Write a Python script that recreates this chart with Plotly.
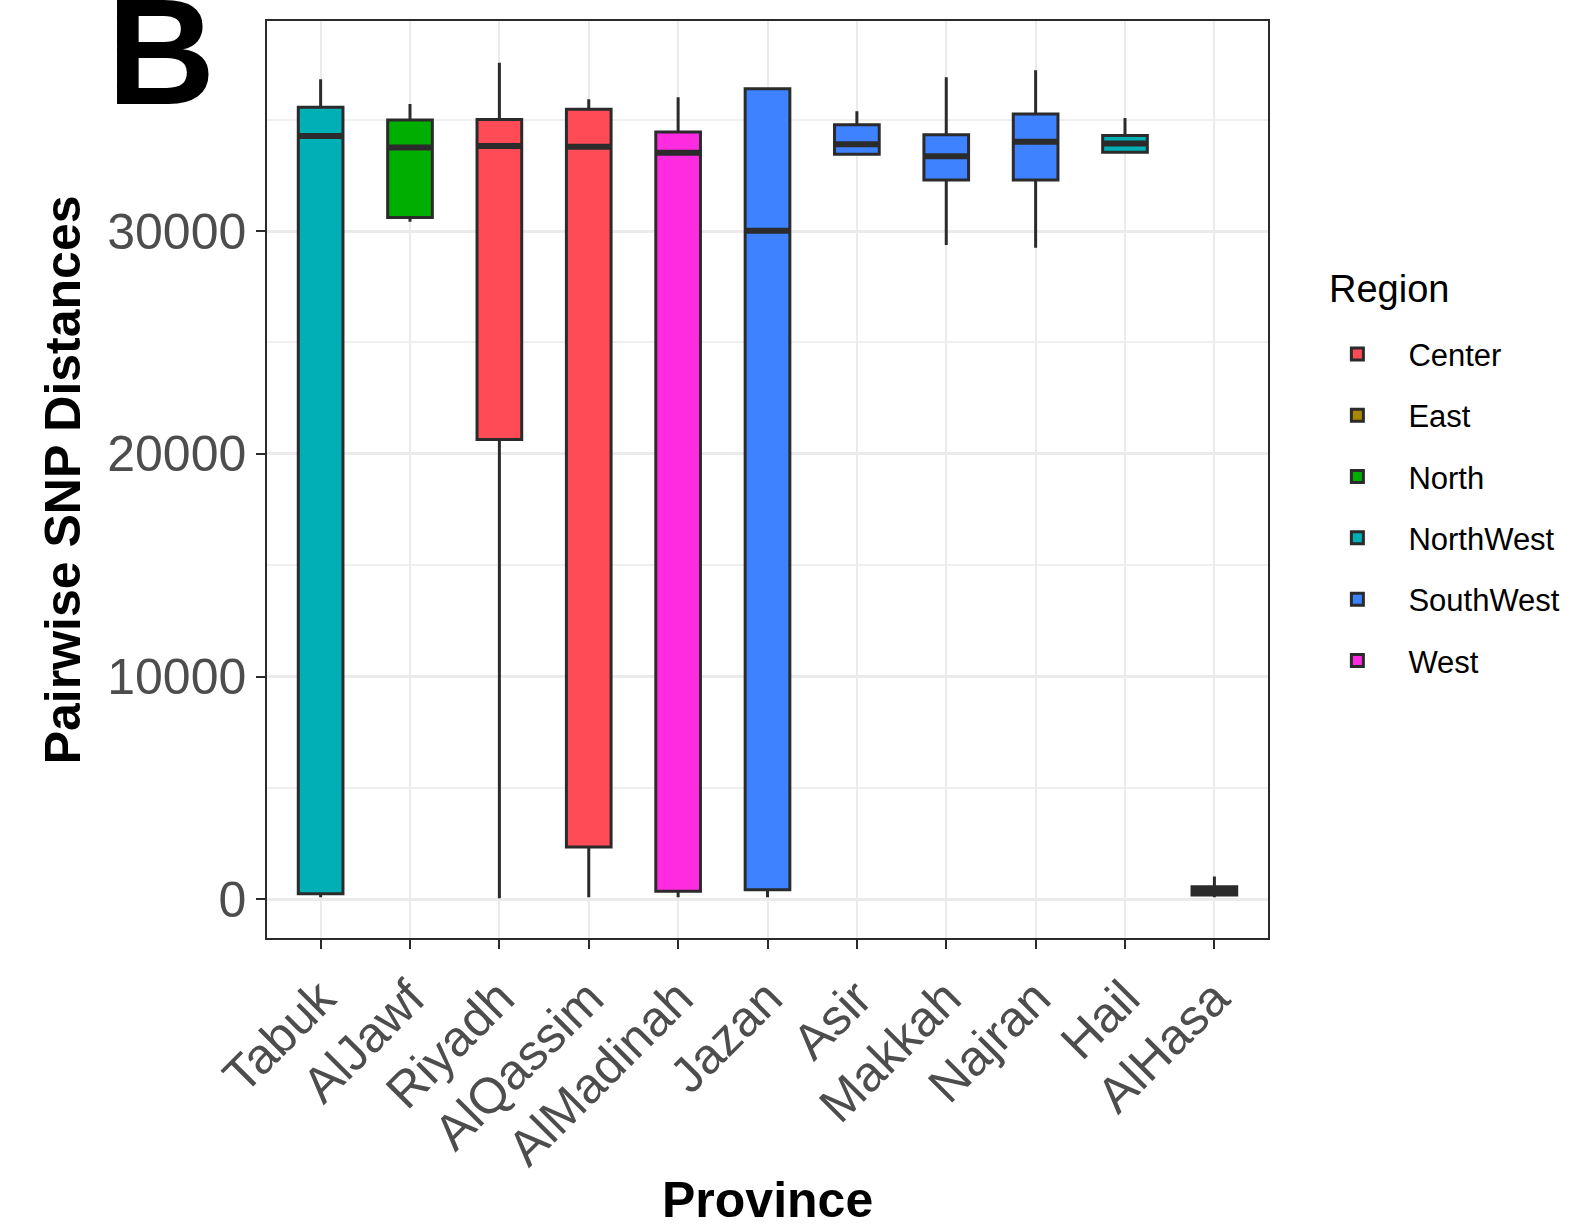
import plotly.graph_objects as go

provinces = ["Tabuk", "AlJawf", "Riyadh", "AlQassim", "AlMadinah", "Jazan",
             "Asir", "Makkah", "Najran", "Hail", "AlHasa"]
regions = ["NorthWest", "North", "Center", "Center", "West", "SouthWest",
           "SouthWest", "SouthWest", "SouthWest", "NorthWest", "East"]
lower_fence = [100, 30410, 50, 100, 100, 100, 33450, 29370, 29250, 33540, 100]
q1 = [256, 30610, 20640, 2350, 370, 435, 33450, 32290, 32290, 33540, 200]
median = [34260, 33750, 33810, 33780, 33510, 30010, 33890, 33360, 34010, 33930, 380]
q3 = [35550, 34980, 35010, 35460, 34440, 36390, 34770, 34320, 35250, 34290, 570]
upper_fence = [36807, 35700, 37550, 35910, 36000, 36430, 35380, 36900, 37220, 35070, 1030]

region_order = ["Center", "East", "North", "NorthWest", "SouthWest", "West"]
region_colors = {"Center": "#FF4B55", "East": "#A98800", "North": "#00AE00",
                 "NorthWest": "#00B0B6", "SouthWest": "#3F82FF", "West": "#FF2BE0"}

FONT = "Liberation Sans, Arial, sans-serif"
DARK = "#2B2B2B"
BOX_W = 0.5

fig = go.Figure()
positions = list(range(1, len(provinces) + 1))

for gi, reg in enumerate(region_order):
    idx = [i for i, r in enumerate(regions) if r == reg]
    fig.add_trace(go.Box(
        name=reg,
        legendgroup=f"g{gi}",
        x=[positions[i] for i in idx],
        q1=[q1[i] for i in idx],
        median=[median[i] for i in idx],
        q3=[q3[i] for i in idx],
        lowerfence=[lower_fence[i] for i in idx],
        upperfence=[upper_fence[i] for i in idx],
        fillcolor=region_colors[reg],
        line=dict(color=DARK, width=3),
        width=BOX_W,
        whiskerwidth=0,
        boxpoints=False,
        hoverinfo="skip",
    ))

# thicker median bars (ggplot style)
mx, my = [], []
for p, m in zip(positions, median):
    mx += [p - BOX_W / 2, p + BOX_W / 2, None]
    my += [m, m, None]
fig.add_trace(go.Scatter(x=mx, y=my, mode="lines", line=dict(color=DARK, width=6),
                         showlegend=False, hoverinfo="skip"))

fig.update_layout(
    width=1573, height=1224,
    paper_bgcolor="white", plot_bgcolor="white",
    margin=dict(l=267, r=305, t=21, b=286),
    boxmode="overlay",
    font=dict(family=FONT, color="#000000"),
    showlegend=True,
    legend=dict(
        font=dict(size=31, family=FONT, color="#000"),
        xref="container", x=0.8305, xanchor="left",
        y=0.666, yanchor="top",
        itemwidth=92,
        tracegroupgap=18,
        bgcolor="rgba(0,0,0,0)",
    ),
    xaxis=dict(
        range=[0.4, 11.6],
        tickmode="array", tickvals=positions, ticktext=provinces,
        tickangle=-45,
        tickfont=dict(size=50, family=FONT, color="#4D4D4D"),
        ticks="outside", ticklen=9, tickwidth=2, tickcolor=DARK,
        showgrid=True, gridcolor="#EBEBEB", gridwidth=2,
        showline=True, linecolor=DARK, linewidth=1.5, mirror=True,
        zeroline=False,
    ),
    yaxis=dict(
        range=[-1729, 39425],
        tickvals=[0, 10000, 20000, 30000],
        ticktext=["0", "10000", "20000", "30000"],
        tickfont=dict(size=50, family=FONT, color="#4D4D4D"),
        ticks="outside", ticklen=9, tickwidth=2, tickcolor=DARK,
        showgrid=True, gridcolor="#EBEBEB", gridwidth=2.5,
        minor=dict(tickvals=[5000, 15000, 25000, 35000], showgrid=True,
                   gridcolor="#EFEFEF", gridwidth=1.5, ticks=""),
        showline=True, linecolor=DARK, linewidth=1.5, mirror=True,
        zeroline=False,
    ),
    annotations=[
        dict(text="<b>Pairwise SNP Distances</b>", xref="paper", yref="paper",
             x=-0.204, y=0.5, textangle=-90, showarrow=False,
             xanchor="center", yanchor="middle",
             font=dict(size=50, family=FONT, color="#000")),
        dict(text="<b>Province</b>", xref="paper", yref="paper",
             x=0.5, y=-0.2857, showarrow=False, xanchor="center", yanchor="middle",
             font=dict(size=50, family=FONT, color="#000")),
        dict(text="<b>B</b>", xref="paper", yref="paper",
             x=-0.106, y=0.966, showarrow=False, xanchor="center", yanchor="middle",
             font=dict(size=150, family=FONT, color="#000")),
        dict(text="Region", xref="paper", yref="paper",
             x=1.059, y=0.7077, showarrow=False, xanchor="left", yanchor="middle",
             font=dict(size=38, family=FONT, color="#000")),
    ],
)

fig.write_html("out.html", config={"displayModeBar": False},
               post_script="document.body.style.margin='0';")
